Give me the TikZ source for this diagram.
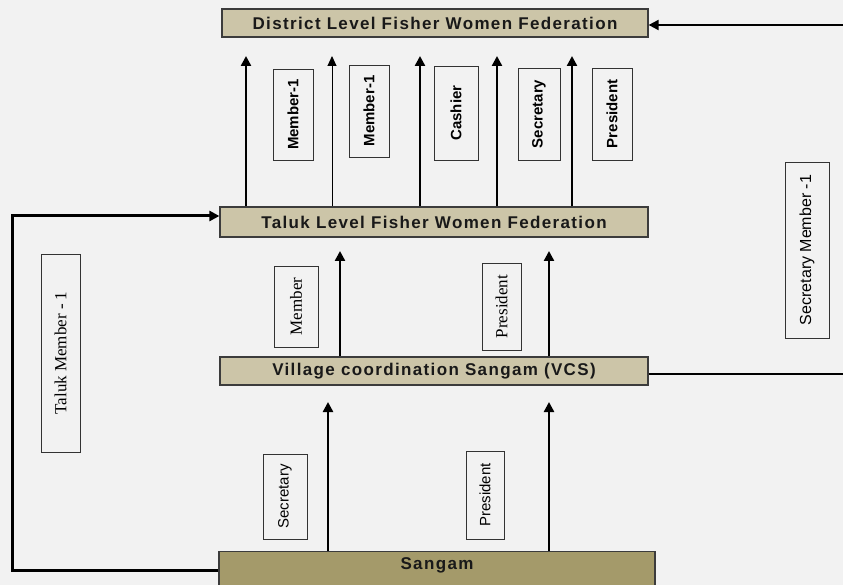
\documentclass[tikz,border=0pt]{standalone}
\usepackage{fontspec}
\setmainfont{Liberation Serif}
\setsansfont{Liberation Sans}
\newfontfamily\boxfont{Liberation Sans}[LetterSpace=8]
\usetikzlibrary{arrows.meta}
\definecolor{bgc}{RGB}{242,242,242}
\definecolor{tanc}{RGB}{204,197,168}
\definecolor{olivec}{RGB}{164,154,106}
\definecolor{edgec}{RGB}{60,60,60}
\begin{document}
\begin{tikzpicture}[x=1pt,y=-1pt,
  level/.style={draw=edgec,line width=1.2pt,fill=tanc,inner sep=0pt,
    font=\boxfont\bfseries\fontsize{17}{20}\selectfont,text=black!90},
  role/.style={draw=black!80,line width=0.9pt,fill=bgc,rotate=90,inner sep=0pt},
  rolebold/.style={role,font=\sffamily\bfseries\fontsize{15}{18}\selectfont},
  roleserif/.style={role,font=\rmfamily\fontsize{17}{20}\selectfont},
  rolesans/.style={role,font=\sffamily\fontsize{15}{18}\selectfont},
  up/.style={line width=2.4pt,-{Triangle[length=10pt,width=10pt]}},
  upthin/.style={line width=1pt,-{Triangle[length=10pt,width=9pt]}},
  link/.style={line width=2.2pt,-{Triangle[length=10pt,width=10pt]}}]
\useasboundingbox (0,0) rectangle (843,585);
\fill[bgc] (0,0) rectangle (843,585);
\clip (0,0) rectangle (843,585);
% level boxes
\node[level,minimum width=426pt,minimum height=28pt] (district) at (435,23) {District Level Fisher Women Federation};
\node[level,minimum width=428pt,minimum height=30pt] (taluk) at (434,222) {Taluk Level Fisher Women Federation};
\node[level,minimum width=428pt,minimum height=28pt] (vcs) at (434,371) {Village coordination Sangam (VCS)};
\node[level,fill=olivec,minimum width=436pt,minimum height=39pt,anchor=north] (sangam) at (437,551) {};
\node[font=\boxfont\bfseries\fontsize{17}{20}\selectfont,text=black!90] (sangamtxt) at (437,565) {Sangam};
% role labels, top row
\node[rolebold,minimum width=91pt,minimum height=40pt] (m1) at (293,114.5) {Member-1};
\node[rolebold,minimum width=92pt,minimum height=40pt] (m2) at (369,111) {Member-1};
\node[rolebold,minimum width=94pt,minimum height=44pt] (cash) at (456,113) {Cashier};
\node[rolebold,minimum width=92pt,minimum height=42pt] (sec) at (539,114) {Secretary};
\node[rolebold,minimum width=92pt,minimum height=40pt] (pres) at (612,114) {President};
% middle row
\node[roleserif,minimum width=81pt,minimum height=44pt] (vmem) at (296,306.5) {Member};
\node[roleserif,minimum width=87pt,minimum height=39pt] (vpres) at (501.5,306.5) {President};
% bottom row
\node[rolesans,minimum width=85pt,minimum height=44pt] (ssec) at (285,496.5) {Secretary};
\node[rolesans,minimum width=88pt,minimum height=38pt] (spres) at (485,495) {President};
% side labels
\node[roleserif,minimum width=198pt,minimum height=39pt] (tm) at (60.5,353) {Taluk Member - 1};
\node[rolesans,minimum width=176pt,minimum height=44pt,font=\sffamily\fontsize{16}{19}\selectfont] (sm) at (807,250) {Secretary Member -1};
% arrow tips
\coordinate (t1) at (246,56);
\coordinate (t2) at (332,56);
\coordinate (t3) at (420,56);
\coordinate (t4) at (497,56);
\coordinate (t5) at (572,56);
\coordinate (v1) at (340,251);
\coordinate (v2) at (549,251);
\coordinate (s1) at (328,402);
\coordinate (s2) at (549,402);
\draw[up] (taluk.north -| t1) -- (t1);
\draw[upthin] (taluk.north -| t2) -- (t2);
\draw[up] (taluk.north -| t3) -- (t3);
\draw[up] (taluk.north -| t4) -- (t4);
\draw[up] (taluk.north -| t5) -- (t5);
\draw[up] (vcs.north -| v1) -- (v1);
\draw[up] (vcs.north -| v2) -- (v2);
\draw[up] (sangam.north -| s1) -- (s1);
\draw[up] (sangam.north -| s2) -- (s2);
% side connectors
\coordinate (lb) at (12,570);
\coordinate (lt) at (12,216);
\draw[link,line width=3pt] (sangam.west |- lb) -- (lb) -- (lt) -- (taluk.west |- lt);
\coordinate (rb) at (847,374);
\coordinate (rt) at (847,25);
\draw[link,line width=2pt] (vcs.east |- rb) -- (rb) -- (rt) -- (district.east |- rt);
\end{tikzpicture}
\end{document}
